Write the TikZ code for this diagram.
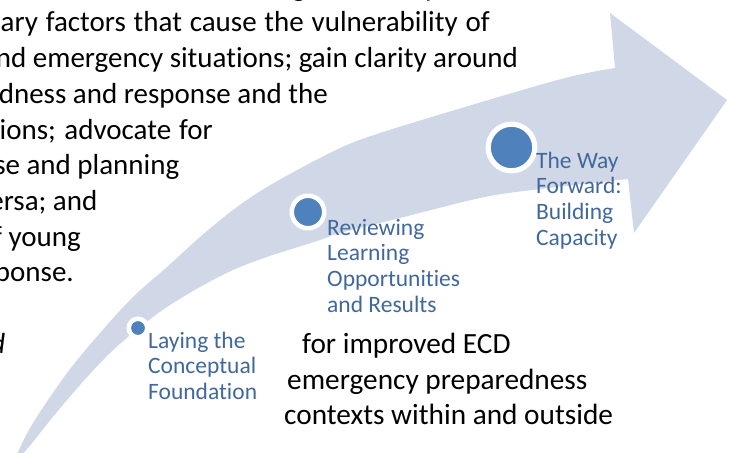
\documentclass[tikz,border=0pt]{standalone}
\usepackage{fontspec}
\setmainfont{Carlito}[Ligatures=NoCommon]
\definecolor{arrowfill}{HTML}{D0D8E8}
\definecolor{dotblue}{HTML}{4F81BD}
\definecolor{labelblue}{HTML}{40689C}
\tikzset{
  bodyline/.style={font=\fontsize{29}{35.7}\selectfont, inner sep=0pt, text=black},
  lowerline/.style={font=\fontsize{29.3}{35.7}\selectfont, inner sep=0pt, text=black, anchor=base west},
  steplabel/.style={font=\fontsize{23.5}{25.8}\selectfont, inner sep=0pt, text=labelblue, anchor=base west},
  milestone/.style={circle, fill=dotblue, draw=white, inner sep=0pt},
}
\newcommand{\labellines}[1]{\parbox[t]{150pt}{#1}}
% a line of the running paragraph spread to a given width
\newcommand{\jline}[2]{\makebox[#1pt][s]{#2}}
\begin{document}
\begin{tikzpicture}[x=1pt,y=-1pt]
\useasboundingbox (0,0) rectangle (730,452);
\clip (0,0) rectangle (730,452);

% paragraph running behind the graphic
\node[bodyline, anchor=base west] (frag-g) at (292,-3.7) {g};
\node[bodyline, anchor=base west] (frag-p) at (425,-3.7) {p};
\node[bodyline, anchor=base west] (p1) at (0.5,32) {\jline{489}{ary factors that cause the vulnerability of}};
\node[bodyline, anchor=base east] (p2) at (518,67.7) {nd emergency situations; gain clarity around};
\node[bodyline, anchor=base east] (p3) at (328,103.4) {dness and response and the};
\node[bodyline, anchor=base west] (p4) at (-0.5,139.1) {\jline{213}{ions; advocate for}};
\node[bodyline, anchor=base east] (p5) at (179.5,174.8) {se and planning};
\node[bodyline, anchor=base east] (p6) at (97.5,210.5) {ersa; and};
\node[bodyline, anchor=base east] (p7) at (81,246.2) {of young};
\node[bodyline, anchor=base east] (p8) at (74,281.9) {response.};
\node[bodyline, anchor=base east] (p9) at (5.5,353.3) {\itshape d};
\node[lowerline] (q1) at (302,353.3) {for improved ECD};
\node[lowerline] (q2) at (287,389) {emergency preparedness};
\node[lowerline] (q3) at (284,424.7) {contexts within and outside};

% curved arrow band
\fill[arrowfill]
  plot[smooth, tension=0.55] coordinates {(14,462) (18,452) (33,423) (67,373) (100,333) (133,297) (167,267) (200,237) (233,210) (267,187) (320,158) (365,138) (465,107) (565,78) (615,68)}
  -- (610,13) -- (727,100) -- (634,233) -- (628,179)
  -- plot[smooth, tension=0.55] coordinates {(628,179) (532,190) (480,198) (400,218) (340,233) (320,240) (267,257) (233,270) (200,287) (167,307) (140,327) (110,353) (80,385) (52,418) (28,448) (14,462)}
  -- cycle;

% milestones
\node[milestone, line width=4.5pt, minimum size=18.5pt] (m1) at (138,328) {};
\node[milestone, line width=4.5pt, minimum size=32.5pt] (m2) at (308,212) {};
\node[milestone, line width=5.2pt, minimum size=46.6pt] (m3) at (511.5,147.5) {};

\node[steplabel] (l1) at (148,348) {\labellines{Laying the\\Conceptual\\Foundation}};
\node[steplabel] (l2) at (327,235) {\labellines{Reviewing\\Learning\\Opportunities\\and Results}};
\node[steplabel] (l3) at (536,168) {\labellines{The Way\\Forward:\\Building\\Capacity}};
\end{tikzpicture}
\end{document}
